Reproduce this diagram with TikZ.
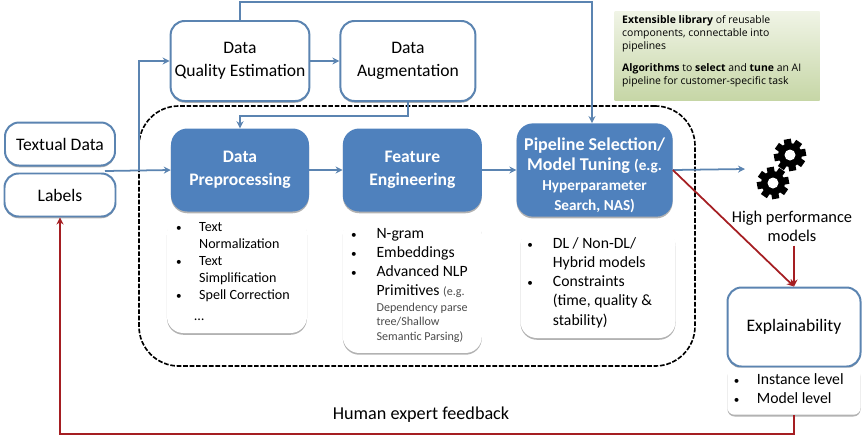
\documentclass[tikz,border=0pt]{standalone}
\usepackage{fontspec}
\setmainfont{Carlito}
\newfontfamily\notefont{Open Sans}
\usetikzlibrary{arrows.meta, positioning, shadows, calc}
\definecolor{linkblue}{HTML}{5B84B1}
\definecolor{boxblue}{HTML}{4F81BD}
\definecolor{linkred}{HTML}{A51E22}
\definecolor{notetop}{HTML}{F0F4E6}
\definecolor{notebot}{HTML}{C6D6A6}
\newcommand{\bul}{{\fontsize{9.5}{10}\selectfont\textbullet}}
\newcommand{\smalltxt}{\fontsize{13}{17}\selectfont}
\newcommand{\parsetxt}{\fontsize{10.3}{13}\selectfont\color{black!70}}
\begin{document}
\begin{tikzpicture}[
  x=0.03cm, y=-0.03cm,
  shadowed/.style={drop shadow={shadow xshift=0pt, shadow yshift=-1.5pt, opacity=0.3, fill=black}},
  outline/.style={draw=linkblue, line width=1.7pt, fill=white, rounded corners=12pt, align=center,
                  font=\fontsize{15}{20}\selectfont, shadowed},
  stage/.style={fill=boxblue, text=white, rounded corners=14pt, align=center,
                font=\fontsize{15}{20}\selectfont\bfseries, shadowed},
  listbox/.style={fill=white, rounded corners=14pt, align=left, shadowed, inner sep=0pt,
                  font=\fontsize{13.4}{16.3}\selectfont},
  arr/.style={-{Stealth[length=6pt,width=6pt]}, linkblue, line width=1.5pt},
  redarr/.style={-{Stealth[length=6pt,width=6pt]}, linkred, line width=1.5pt},
  gearicon/.pic={
    \foreach \a in {0,45,...,315}
      \fill[black, rotate=\a+10] (-3.6,8) rectangle (3.6,16);
    \fill[black] (0,0) circle (12);
    \fill[white] (0,0) circle (5.5);
  },
  node distance=1cm
]
  \useasboundingbox (0,0) rectangle (865,436);

  % Frame
  \node[draw, dash pattern=on 4pt off 1.5pt, line width=1.4pt, rounded corners=34pt, minimum width=16.68cm,
        minimum height=7.8cm] (frame) at (417,236) {};

  % Inputs
  \node[outline, minimum width=3.3cm, minimum height=1.29cm] (text) at (60,144) {Textual Data};
  \node[outline, minimum width=3.33cm, minimum height=1.29cm, below=0.18cm of text] (labels) {Labels};
  \coordinate (datain) at (105,171);
  \coordinate (branch) at (139,171);

  % Outer loop
  \node[outline, minimum width=4.08cm, minimum height=2.4cm] (dqe) at (240,61) {Data\\Quality Estimation};
  \node[outline, minimum width=4.05cm, minimum height=2.4cm, right=0.87cm of dqe] (aug) {Data\\Augmentation};

  % Stages
  \node[stage, minimum width=4.14cm, minimum height=2.49cm] (prep) at (240,170) {Data\\Preprocessing};
  \node[stage, minimum width=4.17cm, minimum height=2.49cm, right=of prep] (feat) {Feature\\Engineering};
  \node[stage, minimum width=4.68cm, minimum height=2.7cm, right=1.03cm of feat, font=\fontsize{15.4}{17}\selectfont\bfseries] (pipe)
       {\rule{0pt}{20pt}Pipeline Selection/\\Model Tuning \smalltxt(e.g.\\
        \smalltxt Hyperparameter\\\smalltxt Search, NAS)};

  % Lists
  \node[listbox, minimum width=4.2cm, minimum height=3.48cm, font=\fontsize{12}{14.5}\selectfont] (preplist) at (237,275)
       {\begin{tabular}{@{}l@{\hspace{15pt}}l@{\hspace{7pt}}}
        \bul & Text\\ & Normalization\\ \bul & Text\\ & Simplification\\ \bul & Spell Correction\\[3pt] & \hspace{-4pt}\dots\\[4pt]
        \end{tabular}};
  \node[listbox, minimum width=4.17cm, minimum height=4.05cm, below=0.18cm of feat] (featlist)
       {\begin{tabular}{@{}l@{\hspace{17pt}}l@{\hspace{5pt}}}
        \bul & N-gram\\ \bul & Embeddings\\ \bul & Advanced NLP\\
        & Primitives {\parsetxt(e.g.}\\[-3pt]
        & {\parsetxt Dependency parse}\\[-4pt]
        & {\parsetxt tree/Shallow}\\[-4pt]
        & {\parsetxt Semantic Parsing)}
        \end{tabular}};
  \node[listbox, minimum width=4.65cm, minimum height=3.3cm] (pipelist) at (598,283)
       {\begin{tabular}{@{}l@{\hspace{17pt}}l@{\hspace{14pt}}}
        \bul & DL / Non-DL/\\ & Hybrid models\\ \bul & Constraints\\ & (time, quality \&\\ & stability)
        \end{tabular}};

  % Outputs
  \pic at (790,155) {gearicon};
  \pic at (773,183) {gearicon};
  \coordinate (gears) at (745,169);
  \node[align=center, font=\fontsize{14}{16.4}\selectfont] (models) at (792,226) {High performance\\models};
  \node[outline, minimum width=3.99cm, minimum height=2.37cm] (expl) at (794,327) {Explainability};
  \node[listbox, rounded corners=6pt, minimum width=3.99cm, minimum height=1.41cm, below=0pt of expl] (expllist)
       {\begin{tabular}{@{}l@{\hspace{15pt}}l@{\hspace{9pt}}}
        \bul & Instance level\\ \bul & Model level\\[2pt]
        \end{tabular}};
  \node[font=\fontsize{15.5}{19}\selectfont] (human) at (421,415) {Human expert feedback};

  % Note
  \node[top color=notetop, bottom color=notebot, minimum width=6.15cm, minimum height=2.67cm] (note) at (717,56) {};
  \node[font=\fontsize{8.9}{11.1}\selectfont\notefont, align=left, inner sep=0pt, anchor=north west]
       (notetext) at (622,15)
       {\textbf{Extensible library} of reusable\\components, connectable into\\pipelines\\[8pt]
        \textbf{Algorithms} to \textbf{select} and \textbf{tune} an AI\\pipeline for customer-specific task};

  % Links
  \coordinate (top) at (592,2);
  \draw[arr](datain)--(prep.west);
  \draw[arr](branch) |- (dqe.west);
  \draw[arr](dqe)--(aug);
  \draw[arr](prep)--(feat);
  \draw[arr](feat)--(pipe);
  \draw[arr](pipe.east)--(gears);
  \draw[arr](dqe.north) |- (top) -- (top |- pipe.north);
  \draw[arr](aug.south) -- ++(0,14) -| (prep.north);

  \draw[redarr](pipe.east)--(expl.north);
  \draw[redarr](models.south -| expl.north)--(expl.north);
  \draw[redarr](expllist.south) -- ++(0,19) -| (labels.south);
\end{tikzpicture}
\end{document}
